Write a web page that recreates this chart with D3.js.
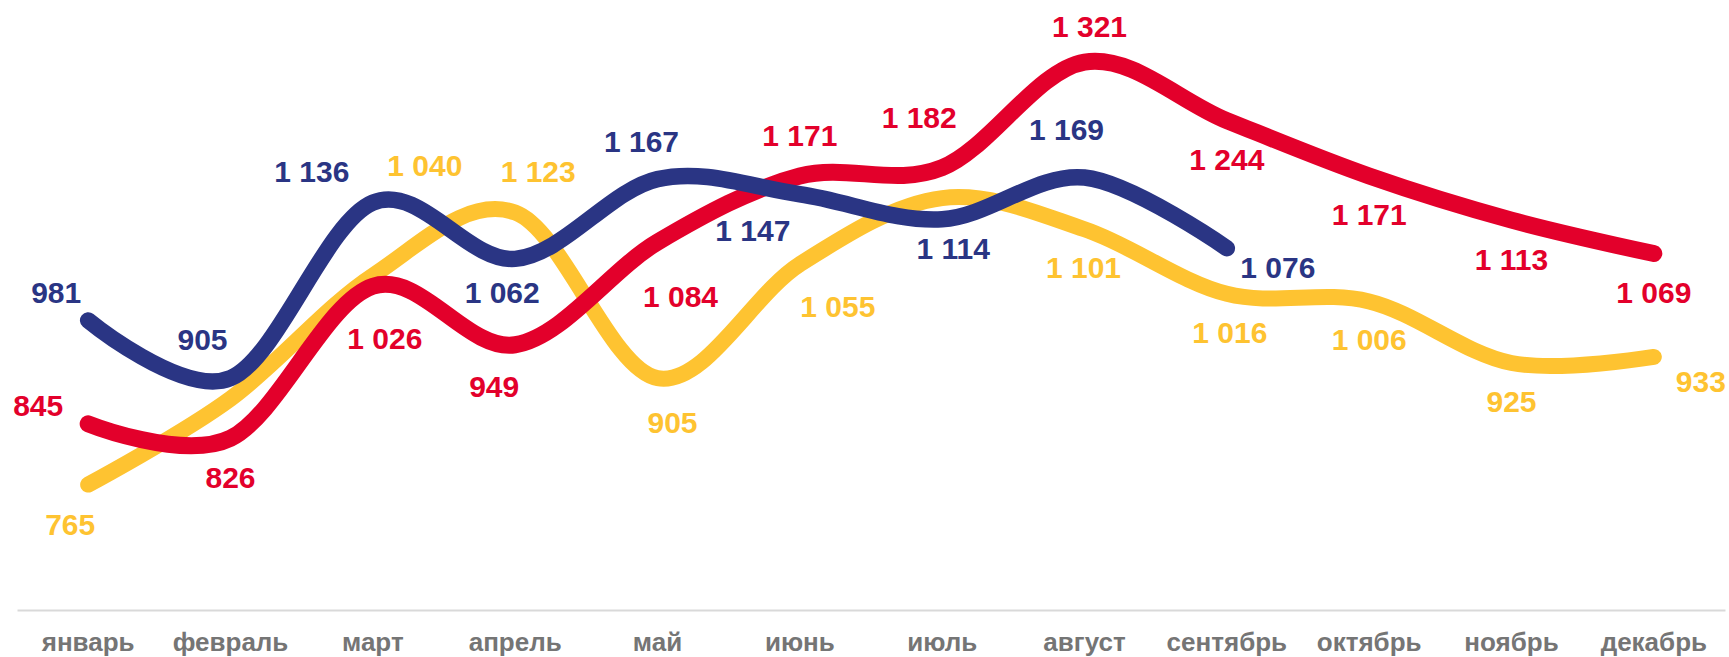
<!DOCTYPE html>
<html>
<head>
<meta charset="utf-8">
<script src="https://cdn.jsdelivr.net/npm/d3@7"></script>
<style>
  html, body { margin: 0; padding: 0; background: #ffffff; }
  svg { display: block; }
</style>
</head>
<body>
<div id="chart"></div>
<script>
// ---- data ----
const months = ["январь", "февраль", "март", "апрель", "май", "июнь", "июль", "август", "сентябрь", "октябрь", "ноябрь", "декабрь"];
const yellowValues = [765, 878, 1040, 1123, 905, 1055, 1142, 1101, 1016, 1006, 925, 933];
const yellowLabelled = [true, false, true, true, true, true, false, true, true, true, true, true];
const redValues = [845, 826, 1026, 949, 1084, 1171, 1182, 1321, 1244, 1171, 1113, 1069];
const blueValues = [981, 905, 1136, 1062, 1167, 1147, 1114, 1169, 1076];
const yDomain = [600, 1400];

// ---- layout: label offsets (px) from each point to label centre ----
const yellowLabelOffsets = [[-18, 40], null, [52, -110], [23, -41], [15, 44], [38, 42], null, [-1, 38], [3, 38], [0, 38], [0, 38], [47, 24]];
const redLabelOffsets = [[-50, -19], [0, 39], [12, 52], [-21, 41], [23, 54], [0, -41], [-23, -50], [5, -36], [0, 39], [0, 38], [0, 39], [0, 39]];
const blueLabelOffsets = [[-32, -28], [-28, -39], [-61, -31], [-13, 33], [-16, -38], [-47, 36], [11, 29], [-18, -48], [51, 19]];

const W = 1729, H = 657;
const colors = { yellow: "#FEC331", red: "#E3002B", blue: "#2A3584" };

const svg = d3.select("#chart").append("svg").attr("width", W).attr("height", H);

const x = d3.scaleBand().domain(months).range([17, 1725]);
const cx = m => x(m) + x.bandwidth() / 2;
const y = d3.scaleLinear().domain(yDomain).range([610, 2]);

const fmt = d3.formatLocale({ decimal: ",", thousands: " ", grouping: [3], currency: ["", ""] }).format(",d");

// axis
const axis = svg.append("g")
  .attr("transform", "translate(0,610)")
  .call(d3.axisBottom(x).tickSize(0).tickSizeOuter(0));
axis.select(".domain").attr("stroke", "#d9d9d9").attr("stroke-width", 2);
axis.selectAll("text")
  .attr("y", 41).attr("dy", null)
  .attr("fill", "#757575")
  .style("font-family", "'Liberation Sans', Arial, sans-serif")
  .style("font-weight", "bold")
  .style("font-size", "26px");

const line = d3.line()
  .x((d, i) => cx(months[i]))
  .y(d => y(d))
  .curve(d3.curveCardinal.tension(0));

const series = [
  { key: "yellow", values: yellowValues, offsets: yellowLabelOffsets, width: 16 },
  { key: "red", values: redValues, offsets: redLabelOffsets, width: 17 },
  { key: "blue", values: blueValues, offsets: blueLabelOffsets, width: 16.5 }
];

series.forEach(s => {
  svg.append("path")
    .datum(s.values)
    .attr("d", line)
    .attr("fill", "none")
    .attr("stroke", colors[s.key])
    .attr("stroke-width", s.width)
    .attr("stroke-linecap", "round")
    .attr("stroke-linejoin", "round");
});

series.forEach(s => {
  const pts = s.values.map((v, i) => ({ v, i })).filter(d => s.offsets[d.i]);
  svg.append("g").selectAll("text")
    .data(pts)
    .join("text")
    .attr("x", d => cx(months[d.i]) + s.offsets[d.i][0])
    .attr("y", d => y(d.v) + s.offsets[d.i][1])
    .attr("dy", "0.36em")
    .attr("text-anchor", "middle")
    .attr("fill", colors[s.key])
    .style("font-family", "'Liberation Sans', Arial, sans-serif")
    .style("font-weight", "bold")
    .style("font-size", "30px")
    .text(d => fmt(d.v));
});
</script>
</body>
</html>
